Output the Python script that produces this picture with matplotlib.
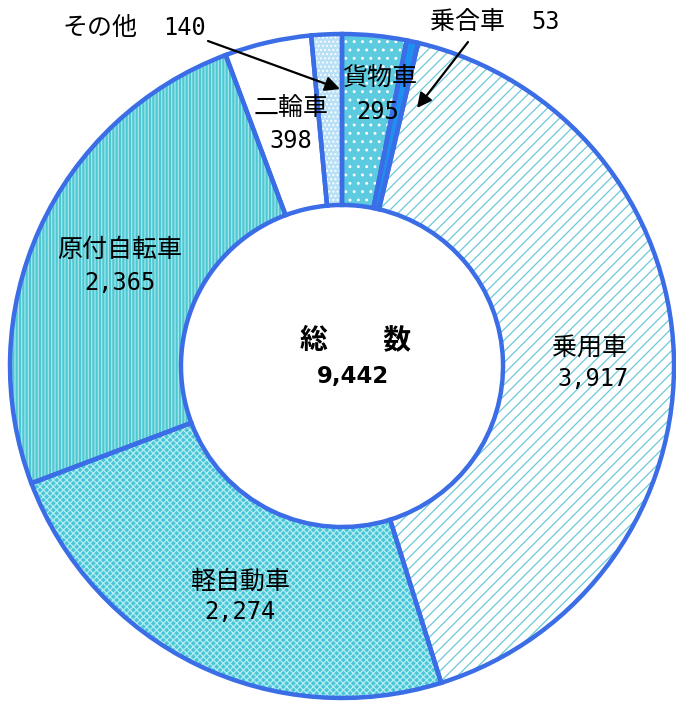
import matplotlib
matplotlib.use("Agg")
import matplotlib.pyplot as plt

plt.rcParams['font.family'] = ['Noto Sans CJK JP', 'DejaVu Sans']
plt.rcParams['hatch.linewidth'] = 0.9

# ---- data ----
categories = ['貨物車', '乗合車', '乗用車', '軽自動車', '原付自転車', '二輪車', 'その他']
values = [295, 53, 3917, 2274, 2365, 398, 140]
total_label = '総　　数'
total_value = sum(values)

# ---- styles ----
face_colors = ['#5ccbe0', '#1f8ff0', '#ffffff', '#46c6d6', '#4cc8d2', '#ffffff', '#b9e0f5']
hatch_colors = ['#ffffff', '#1f8ff0', '#6cc8d8', '#b4ecf2', '#a6e6ec', '#ffffff', '#ffffff']
hatches = ['..', None, '///', 'xxxxx', '|||||', None, '....']
edge_blue = '#3a6de6'

W, H = 676, 706
CX, CY, R = 342, 366, 332   # pie centre / radius in pixels
fig = plt.figure(figsize=(W / 100, H / 100), dpi=100)
ax = fig.add_axes([(CX - R) / W, (H - CY - R) / H, 2 * R / W, 2 * R / H])

ring = 0.515
# fill + hatch layer
wedges, _ = ax.pie(values, startangle=90, counterclock=False, radius=1,
                   wedgeprops=dict(width=ring, linewidth=0))
for w, fc, hc, h in zip(wedges, face_colors, hatch_colors, hatches):
    w.set_facecolor(fc)
    w.set_edgecolor(hc)
    w.set_linewidth(0)
    if h:
        w.set_hatch(h)
# outline layer
ax.pie(values, startangle=90, counterclock=False, radius=1,
       colors=['none'] * len(values),
       wedgeprops=dict(width=ring, linewidth=3.2, edgecolor=edge_blue, fill=False))

ax.set_xlim(-1, 1)
ax.set_ylim(-1, 1)
ax.set_aspect('equal')
ax.axis('off')


def px(x, y):
    return ((x - CX) / R, (CY - y) / R)


label_pos = {
    '貨物車': ((380, 78), (378, 112)),
    '二輪車': ((291, 108), (291, 141)),
    '乗用車': ((590, 348), (593, 379)),
    '軽自動車': ((240, 582), (240, 612)),
    '原付自転車': ((120, 250), (120, 283)),
}
for cat, val in zip(categories, values):
    if cat in label_pos:
        (nx, ny), (vx, vy) = label_pos[cat]
        ax.text(*px(nx, ny), cat, ha='center', va='center', fontsize=18, color='black')
        ax.text(*px(vx, vy), f'{val:,}', ha='center', va='center', fontsize=17,
                family=['DejaVu Sans Mono'], color='black')

# outside labels with arrows
v = dict(zip(categories, values))
ax.text(*px(100, 28), 'その他', ha='center', va='center', fontsize=18)
ax.text(*px(185, 28), f'{v["その他"]}', ha='center', va='center', fontsize=17,
        family=['DejaVu Sans Mono'])
ax.annotate('', xy=px(340, 89), xytext=px(208, 41),
            arrowprops=dict(arrowstyle='-|>', color='black', lw=1.6,
                            mutation_scale=22, shrinkA=0, shrinkB=0))
ax.text(*px(468, 22), '乗合車', ha='center', va='center', fontsize=18)
ax.text(*px(546, 22), f'{v["乗合車"]}', ha='center', va='center', fontsize=17,
        family=['DejaVu Sans Mono'])
ax.annotate('', xy=px(417, 108), xytext=px(468, 42),
            arrowprops=dict(arrowstyle='-|>', color='black', lw=1.6,
                            mutation_scale=22, shrinkA=0, shrinkB=0))

# centre total
ax.text(*px(356, 340), total_label, ha='center', va='center', fontsize=20,
        fontweight='bold')
ax.text(*px(353, 377), f'{total_value:,}', ha='center', va='center', fontsize=16.5,
        fontweight='bold', family=['DejaVu Sans'])

fig.savefig('out.png', dpi=100)
